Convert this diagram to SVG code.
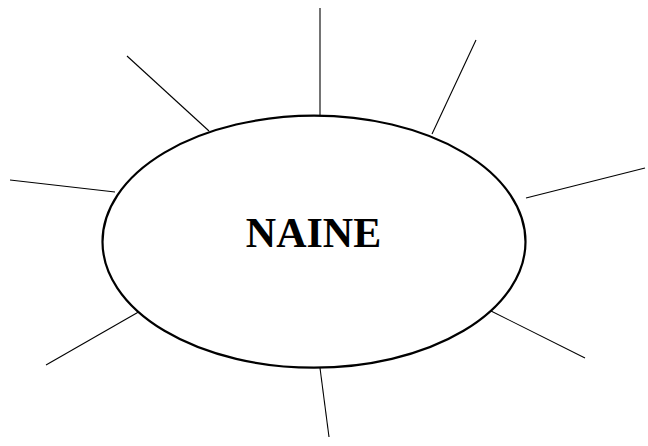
<svg xmlns="http://www.w3.org/2000/svg" width="648" height="446" viewBox="0 0 648 446">
<style>
.ray{stroke:#000;stroke-width:1.1;fill:none}
.oval{fill:#fff;stroke:#000;stroke-width:2.2}
.lbl{font-family:"Liberation Serif","Times New Roman",serif;font-weight:bold;font-size:42px;fill:#000}
</style>
<rect width="648" height="446" fill="#fff"/>
<g id="connectors">
<line class="ray" x1="320" y1="8" x2="320" y2="115"/>
<line class="ray" x1="127" y1="56" x2="209" y2="131"/>
<line class="ray" x1="476" y1="40" x2="432" y2="134"/>
<line class="ray" x1="10" y1="180" x2="115" y2="192"/>
<line class="ray" x1="645" y1="168" x2="526" y2="198"/>
<line class="ray" x1="46" y1="365" x2="142" y2="310"/>
<line class="ray" x1="585" y1="358" x2="491" y2="311"/>
<line class="ray" x1="320" y1="368" x2="329" y2="437"/>
</g>
<g id="naine">
<ellipse class="oval" cx="314" cy="241.7" rx="211.5" ry="126"/>
<text class="lbl" x="313.5" y="247" text-anchor="middle">NAINE</text>
</g>
</svg>
